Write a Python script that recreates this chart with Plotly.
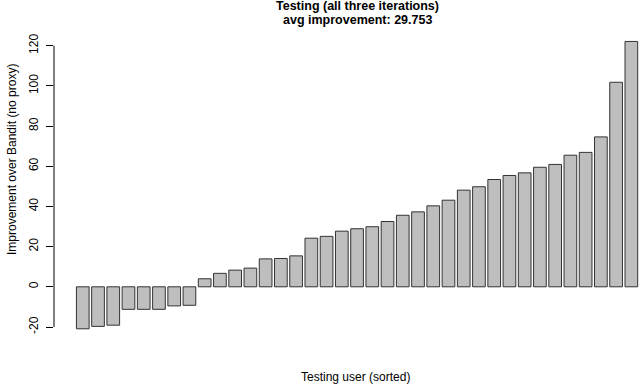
import plotly.graph_objects as go

users = list(range(1, 38))
improvement = [-20.9, -19.7, -19.1, -11.2, -11.2, -11.2, -9.5, -9.2,
               4.0, 6.7, 8.3, 9.3, 13.9, 14.1, 15.4, 24.2, 25.1, 27.7,
               28.9, 29.9, 32.5, 35.6, 37.3, 40.3, 43.1, 48.1, 49.8, 53.4,
               55.4, 56.7, 59.5, 60.9, 65.5, 66.9, 74.6, 101.8, 122.1]
y_ticks = [-20, 0, 20, 40, 60, 80, 100, 120]
title_1 = "Testing (all three iterations)"
title_2 = "avg improvement: 29.753"
x_title = "Testing user (sorted)"
y_title = "Improvement over Bandit (no proxy)"

FONT = "Liberation Sans, Arial, Helvetica, sans-serif"

fig = go.Figure()
fig.add_trace(go.Bar(
    x=users, y=improvement, width=1 / 1.2,
    marker=dict(color="#BEBEBE", line=dict(color="#333333", width=1)),
    hoverinfo="skip",
))

fig.update_layout(
    width=640, height=384,
    margin=dict(l=54, r=0, t=30, b=44),
    paper_bgcolor="white", plot_bgcolor="white",
    showlegend=False,
    font=dict(family=FONT, size=12, color="black"),
    xaxis=dict(range=[-0.888, 37.568], showticklabels=False, ticks="",
               showgrid=False, zeroline=False, showline=False),
    yaxis=dict(range=[-26.47, 127.8], tickvals=y_ticks,
               ticktext=[str(v) for v in y_ticks],
               ticks="outside", ticklen=7, tickwidth=1, tickcolor="black",
               tickangle=-90, tickfont=dict(size=12, family=FONT),
               ticklabelstandoff=3,
               showgrid=False, zeroline=False, showline=False),
    annotations=[
        dict(text="<b>" + title_1 + "</b>", x=0.518, y=1.079, xref="paper",
             yref="paper", showarrow=False, xanchor="center", yanchor="middle",
             font=dict(size=12.5, family=FONT)),
        dict(text="<b>" + title_2 + "</b>", x=0.518, y=1.032, xref="paper",
             yref="paper", showarrow=False, xanchor="center", yanchor="middle",
             font=dict(size=12.5, family=FONT)),
        dict(text=x_title, x=0.515, y=-0.118, xref="paper", yref="paper",
             showarrow=False, xanchor="center", yanchor="middle",
             font=dict(size=12, family=FONT)),
        dict(text=y_title, x=-0.072, y=63.5, xref="paper", yref="y",
             showarrow=False, xanchor="center", yanchor="middle",
             textangle=-90, font=dict(size=12, family=FONT)),
    ],
    shapes=[dict(type="line", xref="paper", yref="y", x0=0, x1=0,
                 y0=y_ticks[0], y1=y_ticks[-1],
                 line=dict(color="black", width=1))],
)

fig.write_html(
    "out.html",
    config={"displayModeBar": False},
    post_script="document.body.style.margin='0';document.body.style.overflow='hidden';",
)
